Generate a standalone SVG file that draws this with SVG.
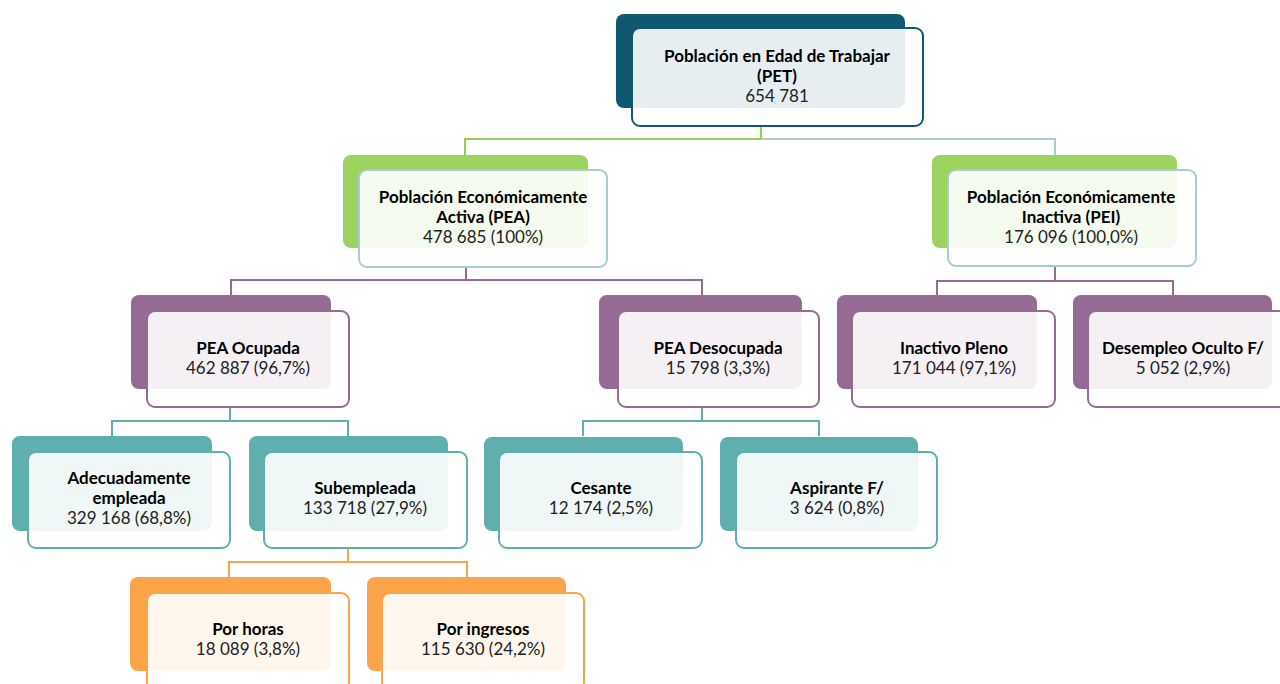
<svg xmlns="http://www.w3.org/2000/svg" width="1280" height="684" viewBox="0 0 1280 684">
<style>
  .t{font-family:Lato,"Liberation Sans",sans-serif;font-size:17px;text-anchor:middle;fill:#000}
  .b{font-weight:bold}
  .n{fill:#222}
  .front{fill:#ffffff;fill-opacity:0.9;stroke-width:2}
  .c{fill:none;stroke-width:2}
  .dk .back{fill:#0f5870}.dk .front{stroke:#0f5870}
  .gr .back{fill:#9bd35e}.gr .front{stroke:#a5cdd2}
  .pu .back{fill:#966b93}.pu .front{stroke:#966b93}
  .tl .back{fill:#60afaf}.tl .front{stroke:#60afaf}
  .or .back{fill:#fda349}.or .front{stroke:#fda349}
</style>
<rect width="1280" height="684" fill="#ffffff"/>
<g id="connectors">
  <path class="c" stroke="#92d050" d="M761 126V139H465V155"/>
  <path class="c" stroke="#a8cdd2" d="M761 139H1055V155"/>
  <path class="c" stroke="#966b93" d="M466 267V280M231 295V280H702V295"/>
  <path class="c" stroke="#966b93" d="M1055 266V281M937 295V281H1173V295"/>
  <path class="c" stroke="#60afaf" d="M230 407V421M112 436V421H348V436"/>
  <path class="c" stroke="#60afaf" d="M702 407V421M583 436V421H819V436"/>
  <path class="c" stroke="#fda349" d="M348 548V562M229 577V562H467V577"/>
</g>
<g id="pet" class="dk">
  <rect class="back" x="616" y="14" width="289" height="94" rx="8"/>
  <rect class="front" x="632" y="28" width="291" height="98" rx="8"/>
  <text class="t b" x="777" y="62">Población en Edad de Trabajar</text>
  <text class="t b" x="777" y="82">(PET)</text>
  <text class="t n" x="777" y="102">654 781</text>
</g>
<g id="pea" class="gr">
  <rect class="back" x="343" y="155" width="245" height="93" rx="8"/>
  <rect class="front" x="359" y="170" width="248" height="97" rx="8"/>
  <text class="t b" x="483" y="203">Población Económicamente</text>
  <text class="t b" x="483" y="223">Activa (PEA)</text>
  <text class="t n" x="483" y="243">478 685 (100%)</text>
</g>
<g id="pei" class="gr">
  <rect class="back" x="932" y="155" width="245" height="93" rx="8"/>
  <rect class="front" x="948" y="170" width="248" height="96" rx="8"/>
  <text class="t b" x="1071" y="203">Población Económicamente</text>
  <text class="t b" x="1071" y="223">Inactiva (PEI)</text>
  <text class="t n" x="1071" y="243">176 096 (100,0%)</text>
</g>
<g id="pea-ocupada" class="pu">
  <rect class="back" x="131" y="295" width="200" height="94" rx="8"/>
  <rect class="front" x="147" y="311" width="202" height="96" rx="8"/>
  <text class="t b" x="248" y="354">PEA Ocupada</text>
  <text class="t n" x="248" y="374">462 887 (96,7%)</text>
</g>
<g id="pea-desocupada" class="pu">
  <rect class="back" x="599" y="295" width="203" height="94" rx="8"/>
  <rect class="front" x="618" y="311" width="201" height="96" rx="8"/>
  <text class="t b" x="718" y="354">PEA Desocupada</text>
  <text class="t n" x="718" y="374">15 798 (3,3%)</text>
</g>
<g id="inactivo-pleno" class="pu">
  <rect class="back" x="837" y="295" width="200" height="94" rx="8"/>
  <rect class="front" x="852" y="311" width="203" height="96" rx="8"/>
  <text class="t b" x="954" y="354">Inactivo Pleno</text>
  <text class="t n" x="954" y="374">171 044 (97,1%)</text>
</g>
<g id="desempleo-oculto" class="pu">
  <rect class="back" x="1073" y="295" width="199" height="94" rx="8"/>
  <rect class="front" x="1088" y="311" width="203" height="96" rx="8"/>
  <text class="t b" x="1183" y="354">Desempleo Oculto F/</text>
  <text class="t n" x="1183" y="374">5 052 (2,9%)</text>
</g>
<g id="adecuadamente" class="tl">
  <rect class="back" x="12" y="436" width="200" height="95" rx="8"/>
  <rect class="front" x="28" y="452" width="202" height="96" rx="8"/>
  <text class="t b" x="129" y="484">Adecuadamente</text>
  <text class="t b" x="129" y="504">empleada</text>
  <text class="t n" x="129" y="524">329 168 (68,8%)</text>
</g>
<g id="subempleada" class="tl">
  <rect class="back" x="249" y="436" width="199" height="95" rx="8"/>
  <rect class="front" x="264" y="452" width="203" height="96" rx="8"/>
  <text class="t b" x="365" y="494">Subempleada</text>
  <text class="t n" x="365" y="514">133 718 (27,9%)</text>
</g>
<g id="cesante" class="tl">
  <rect class="back" x="484" y="437" width="199" height="94" rx="8"/>
  <rect class="front" x="499" y="452" width="203" height="96" rx="8"/>
  <text class="t b" x="601" y="494">Cesante</text>
  <text class="t n" x="601" y="514">12 174 (2,5%)</text>
</g>
<g id="aspirante" class="tl">
  <rect class="back" x="720" y="437" width="198" height="94" rx="8"/>
  <rect class="front" x="736" y="452" width="201" height="96" rx="8"/>
  <text class="t b" x="837" y="494">Aspirante F/</text>
  <text class="t n" x="837" y="514">3 624 (0,8%)</text>
</g>
<g id="por-horas" class="or">
  <rect class="back" x="130" y="577" width="201" height="94" rx="8"/>
  <rect class="front" x="147" y="593" width="202" height="97" rx="8"/>
  <text class="t b" x="248" y="635">Por horas</text>
  <text class="t n" x="248" y="655">18 089 (3,8%)</text>
</g>
<g id="por-ingresos" class="or">
  <rect class="back" x="367" y="577" width="199" height="94" rx="8"/>
  <rect class="front" x="382" y="593" width="202" height="97" rx="8"/>
  <text class="t b" x="483" y="635">Por ingresos</text>
  <text class="t n" x="483" y="655">115 630 (24,2%)</text>
</g>
</svg>
